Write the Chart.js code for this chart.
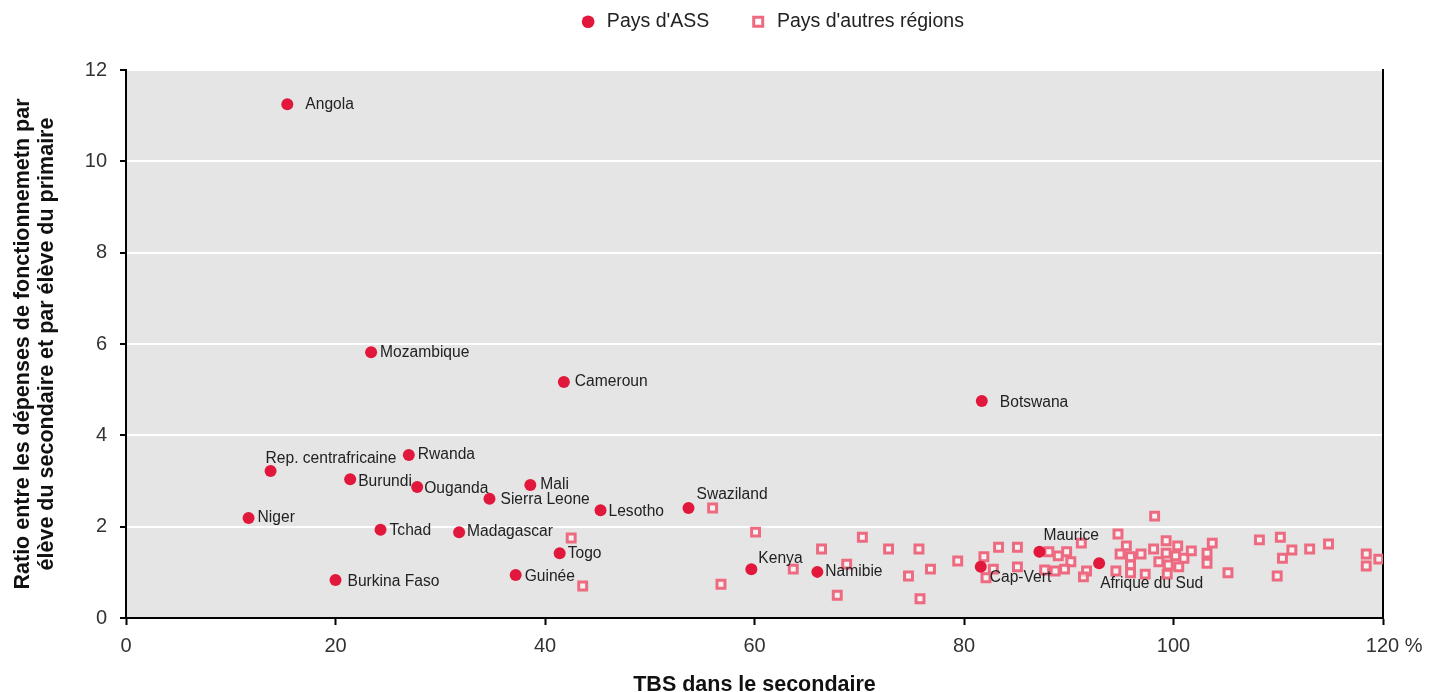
<!DOCTYPE html>
<html>
<head>
<meta charset="utf-8">
<script src="https://cdn.jsdelivr.net/npm/chart.js@4"></script>
<style>
  html, body { margin: 0; padding: 0; background: #fff; }
</style>
</head>
<body>
<canvas id="myChart" width="1429" height="692"></canvas>
<script>
// Pays d'Afrique subsaharienne (ASS)
const ssaNames = ['Angola', 'Mozambique', 'Cameroun', 'Botswana', 'Rep. centrafricaine', 'Rwanda',
  'Burundi', 'Ouganda', 'Mali', 'Sierra Leone', 'Lesotho', 'Swaziland', 'Niger', 'Tchad',
  'Madagascar', 'Togo', 'Burkina Faso', 'Guinée', 'Kenya', 'Namibie', 'Cap-Vert', 'Maurice',
  'Afrique du Sud'];
const ssaTbs = [15.4, 23.4, 41.8, 81.7, 13.8, 27.0, 21.4, 27.8, 38.6, 34.7, 45.3, 53.7, 11.7, 24.3,
  31.8, 41.4, 20.0, 37.2, 59.7, 66.0, 81.6, 87.2, 92.9];
const ssaRatio = [11.25, 5.82, 5.17, 4.75, 3.22, 3.57, 3.04, 2.87, 2.91, 2.61, 2.36, 2.41, 2.19, 1.93,
  1.88, 1.42, 0.83, 0.94, 1.07, 1.01, 1.12, 1.45, 1.20];

// Pays d'autres régions
const otherTbs = [42.5, 43.6, 56.0, 60.1, 56.8, 63.7, 66.4, 68.8, 67.9, 70.3, 72.8, 74.7, 75.7, 76.8,
  75.8, 79.4, 81.9, 82.8, 82.1, 83.3, 85.1, 85.1, 88.1, 89.0, 89.8, 90.2, 89.6, 88.7, 87.7, 91.2,
  91.7, 91.4, 94.7, 95.5, 94.9, 95.9, 95.9, 95.9, 94.5, 98.2, 96.9, 97.3, 98.1, 99.3, 99.3, 98.6,
  99.5, 99.4, 100.4, 100.2, 101.0, 100.5, 101.7, 103.7, 103.2, 103.2, 105.2, 108.2, 110.2, 111.3,
  110.4, 109.9, 113.0, 114.8, 118.4, 118.4, 119.6];
const otherRatio = [1.75, 0.70, 2.41, 1.88, 0.74, 1.07, 1.51, 1.18, 0.50, 1.77, 1.51, 0.92, 1.51, 1.07,
  0.42, 1.25, 1.34, 1.07, 0.88, 1.55, 1.55, 1.12, 1.45, 1.36, 1.45, 1.23, 1.07, 1.03, 1.05, 1.64,
  1.03, 0.90, 1.84, 1.58, 1.40, 1.34, 1.16, 0.99, 1.03, 2.23, 1.40, 0.96, 1.51, 1.69, 1.42, 1.23,
  1.16, 0.96, 1.58, 1.36, 1.31, 1.12, 1.47, 1.64, 1.42, 1.20, 0.99, 1.71, 1.77, 1.49,
  1.31, 0.92, 1.51, 1.62, 1.40, 1.14, 1.29];

const xTicks = [0, 20, 40, 60, 80, 100, 120];
const yTicks = [0, 2, 4, 6, 8, 10, 12];

// décalage des étiquettes par rapport au point [dx, dy]
const labelOffsets = {
  'Angola': [18, 0], 'Mozambique': [9, 0], 'Cameroun': [11, 0], 'Botswana': [18, 2],
  'Rep. centrafricaine': [-5, -12], 'Rwanda': [9, 0], 'Burundi': [8, 3], 'Ouganda': [7, 2],
  'Mali': [10, 0], 'Sierra Leone': [11, 1], 'Lesotho': [8, 1], 'Swaziland': [8, -13],
  'Niger': [9, 0], 'Tchad': [9, 1], 'Madagascar': [8, 0], 'Togo': [8, 1],
  'Burkina Faso': [12, 2], 'Guinée': [9, 2], 'Kenya': [7, -10], 'Namibie': [8, 0],
  'Cap-Vert': [9, 11], 'Maurice': [4, -16], 'Afrique du Sud': [1, 20]
};

const FONT = '"Liberation Sans", Arial, Helvetica, sans-serif';

const plotBg = {
  id: 'plotBg',
  beforeDraw(chart) {
    const a = chart.chartArea;
    const ctx = chart.ctx;
    ctx.save();
    ctx.fillStyle = '#e5e5e5';
    ctx.fillRect(a.left, a.top, a.right - a.left, a.bottom - a.top);
    ctx.restore();
  }
};

const pointLabels = {
  id: 'pointLabels',
  afterDatasetsDraw(chart) {
    const ctx = chart.ctx;
    const meta = chart.getDatasetMeta(0);
    ctx.save();
    ctx.font = '15.6px ' + FONT;
    ctx.fillStyle = '#222';
    ctx.textBaseline = 'middle';
    ctx.textAlign = 'left';
    meta.data.forEach((pt, i) => {
      const name = ssaNames[i];
      const off = labelOffsets[name] || [8, 0];
      ctx.fillText(name, pt.x + off[0], pt.y + off[1]);
    });
    ctx.restore();
  }
};

// la légende est un peu décalée vers la droite et vers le haut
const legendShift = {
  id: 'legendShift',
  afterUpdate(chart) {
    if (chart.legend) {
      chart.legend.left += 57;
      chart.legend.right += 57;
      chart.legend.top -= 28;
    }
  }
};

const ctx = document.getElementById('myChart').getContext('2d');
new Chart(ctx, {
  type: 'scatter',
  data: {
    datasets: [
      {
        label: "Pays d'ASS",
        data: ssaTbs.map((x, i) => ({ x: x, y: ssaRatio[i] })),
        pointStyle: 'circle',
        pointRadius: 6,
        pointHoverRadius: 6,
        backgroundColor: '#e1183c',
        borderColor: '#e1183c',
        pointBorderWidth: 0
      },
      {
        label: "Pays d'autres régions",
        data: otherTbs.map((x, i) => ({ x: x, y: otherRatio[i] })),
        pointStyle: 'rect',
        pointRadius: 5.6,
        pointHoverRadius: 5.6,
        backgroundColor: 'rgba(255,255,255,0.55)',
        borderColor: '#ee6a80',
        pointBorderWidth: 3
      }
    ]
  },
  options: {
    responsive: false,
    animation: false,
    layout: { padding: { top: 0, left: 0, right: 0, bottom: 0 } },
    plugins: {
      tooltip: { enabled: false },
      legend: {
        position: 'top',
        maxHeight: 40,
        labels: {
          usePointStyle: true,
          boxWidth: 18,
          boxHeight: 9,
          padding: 40,
          color: '#222',
          font: { family: FONT, size: 19.5 }
        }
      }
    },
    scales: {
      x: {
        type: 'linear',
        min: 0, max: 120,
        afterBuildTicks: s => { s.ticks = xTicks.map(v => ({ value: v })); },
        ticks: {
          callback: v => (v === 120 ? '    120 %' : v),
          color: '#333',
          padding: 0,
          maxRotation: 0,
          font: { family: FONT, size: 20, lineHeight: 2.1 }
        },
        grid: { drawOnChartArea: false, tickLength: 7, tickColor: '#000', tickWidth: 2 },
        border: { color: '#000', width: 2 },
        title: {
          display: true,
          text: 'TBS dans le secondaire',
          color: '#111',
          padding: { top: 0, bottom: -2 },
          font: { family: FONT, size: 21.5, weight: 'bold', lineHeight: 0.8 }
        },
        afterFit: s => { s.height = 74; }
      },
      xTop: {
        type: 'linear',
        position: 'top',
        display: true,
        ticks: { display: false },
        grid: { display: false },
        border: { display: false },
        afterFit: s => { s.height = Math.max(0, 70 - s.chart.legend.height); }
      },
      y: {
        type: 'linear',
        min: 0, max: 12,
        afterBuildTicks: s => { s.ticks = yTicks.map(v => ({ value: v })); },
        ticks: {
          color: '#333',
          padding: 13,
          font: { family: FONT, size: 20 }
        },
        grid: {
          color: c => (c.tick && c.tick.value === 0 ? 'rgba(0,0,0,0)' : '#ffffff'),
          lineWidth: 2,
          tickLength: 6,
          tickColor: '#000',
          tickWidth: 2
        },
        border: { color: '#000', width: 2 },
        title: {
          display: true,
          text: ['Ratio entre les dépenses de fonctionnemetn par', 'élève du secondaire et par élève du primaire'],
          color: '#111',
          padding: { top: 11, bottom: 0 },
          font: { family: FONT, size: 21.5, weight: 'bold', lineHeight: 1.12 }
        },
        afterFit: s => { s.width = 126; }
      },
      yRight: {
        type: 'linear',
        position: 'right',
        display: true,
        ticks: { display: false },
        grid: { drawOnChartArea: false, drawTicks: false },
        border: { color: '#000', width: 2 },
        afterFit: s => { s.width = 46; }
      }
    }
  },
  plugins: [plotBg, pointLabels, legendShift]
});
</script>
</body>
</html>
